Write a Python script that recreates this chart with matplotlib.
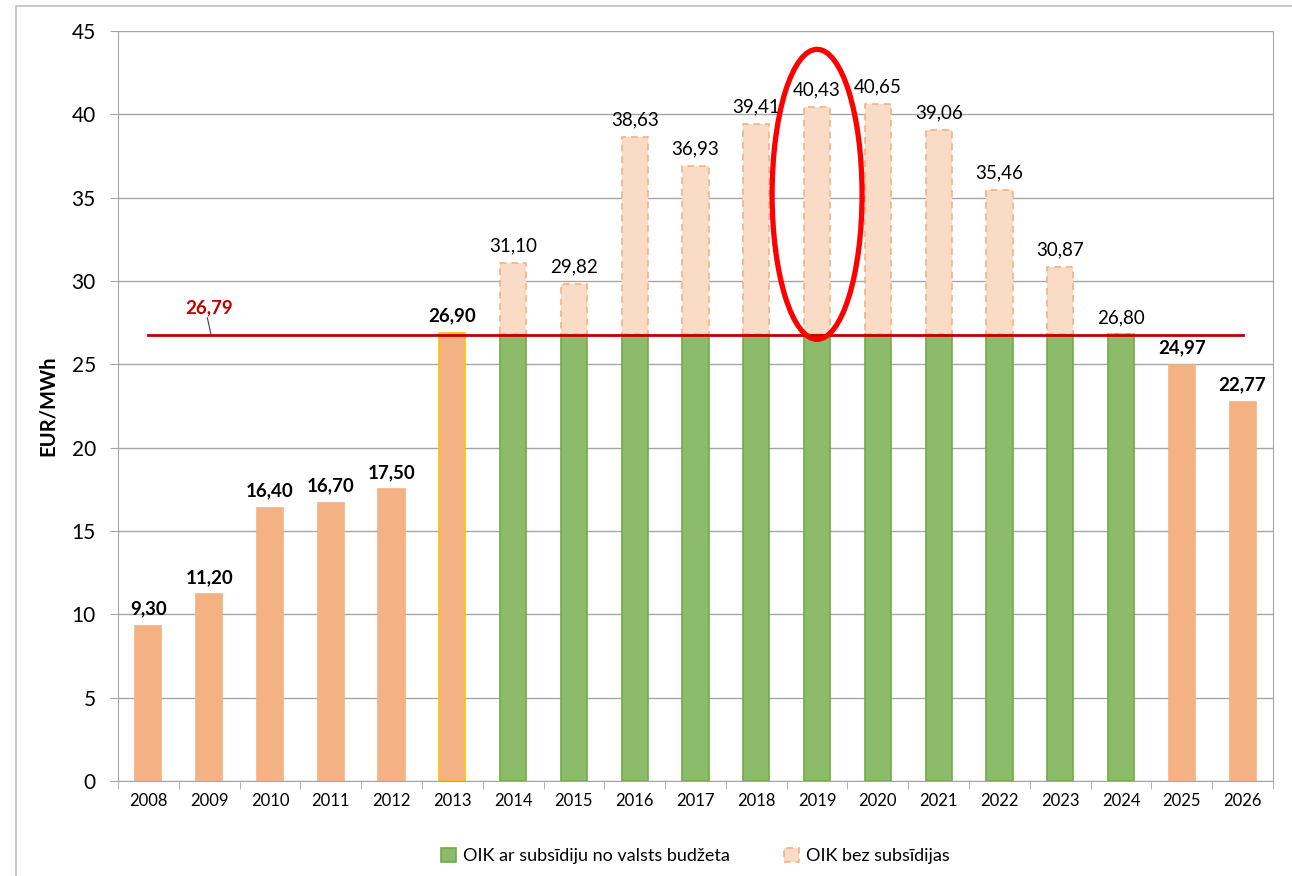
import matplotlib.pyplot as plt
from matplotlib.patches import Ellipse, Rectangle

# ── Data ────────────────────────────────────────────────────────────────────────
years = [str(y) for y in range(2008, 2027)]
orange_years = ["2008", "2009", "2010", "2011", "2012", "2013", "2025", "2026"]
orange_vals = [9.30, 11.20, 16.40, 16.70, 17.50, 26.90, 24.97, 22.77]
sub_years = ["2014", "2015", "2016", "2017", "2018", "2019", "2020",
             "2021", "2022", "2023", "2024"]
sub_base = [26.80] * 11
sub_total = [31.10, 29.82, 38.63, 36.93, 39.41, 40.43, 40.65,
             39.06, 35.46, 30.87, 26.80]
avg_value = 26.79

ORANGE = "#F4B183"
GREEN = "#8CBB6C"
GREEN_EDGE = "#70AD47"
PALE = "#FADBC6"

plt.rcParams['font.family'] = ['Lato', 'DejaVu Sans']

fig = plt.figure(figsize=(12.92, 8.76), dpi=100)
ax = fig.add_axes([118 / 1292, 95 / 876, 1155 / 1292, 750 / 876])

# figure frame
fig.patches.append(Rectangle((16 / 1292, -0.01), 1.0, 1 - 6 / 876 + 0.01,
                             transform=fig.transFigure, fill=False,
                             edgecolor="#BFBFBF", linewidth=1.2))

idx = {y: i for i, y in enumerate(years)}
w = 0.43

# orange bars
ox = [idx[y] for y in orange_years]
edges = ["#FFC000" if y == "2013" else ORANGE for y in orange_years]
ax.bar(ox, orange_vals, width=w, color=ORANGE, edgecolor=edges, linewidth=1.2, zorder=3)
for x, v in zip(ox, orange_vals):
    ax.text(x, v + 0.5, f"{v:.2f}".replace(".", ","), ha="center", va="bottom",
            fontsize=13.5, fontweight="bold", color="black", zorder=5)

# subsidised bars
sx = [idx[y] for y in sub_years]
ax.bar(sx, sub_base, width=w, color=GREEN, edgecolor=GREEN_EDGE, linewidth=1.2, zorder=3,
       label="OIK ar subsīdiju no valsts budžeta")
extra = [t - b for t, b in zip(sub_total, sub_base)]
ax.bar(sx, extra, bottom=sub_base, width=w, color=PALE, edgecolor=ORANGE,
       linewidth=1.2, linestyle=(0, (4, 3)), zorder=3, label="OIK bez subsīdijas")
for x, t in zip(sx, sub_total):
    ax.text(x, t + 0.5, f"{t:.2f}".replace(".", ","), ha="center", va="bottom",
            fontsize=13.5, color="black", zorder=5)

# average line
ax.plot([0, len(years) - 1], [avg_value, avg_value], color="#C00000", linewidth=2, zorder=4)
ax.text(1.0, avg_value + 1.1, f"{avg_value:.2f}".replace(".", ","), ha="center",
        va="bottom", fontsize=13.5, fontweight="bold", color="#C00000")
ax.plot([0.97, 1.03], [avg_value + 1.0, avg_value], color="#404040", linewidth=0.8, zorder=4)

# highlight ellipse
ax.add_patch(Ellipse((idx["2019"], 35.2), 1.48, 17.4, fill=False,
                     edgecolor="#FF0000", linewidth=3.8, zorder=6, clip_on=False))

# axes styling
ax.set_xlim(-0.5, len(years) - 0.5)
ax.set_ylim(0, 45)
ax.set_yticks(range(0, 46, 5))
ax.set_xticks(range(len(years)))
ax.set_xticklabels(years, fontsize=12)
ax.set_xticks([i - 0.5 for i in range(len(years) + 1)], minor=True)
ax.tick_params(axis="x", which="major", length=0, pad=9)
ax.tick_params(axis="x", which="minor", length=6, color="#A6A6A6")
ax.tick_params(axis="y", labelsize=15, length=6, color="#A6A6A6", pad=10)
ax.grid(axis="y", color="#A6A6A6", linewidth=1, zorder=0)
ax.set_axisbelow(True)
for s in ax.spines.values():
    s.set_color("#A6A6A6")
ax.spines["top"].set_visible(False)
ax.set_ylabel("EUR/MWh", fontsize=14.5, fontweight="bold", labelpad=10)

ax.legend(loc="upper center", bbox_to_anchor=(0.5, -0.068), ncol=2, frameon=False,
          fontsize=13, handlelength=0.8, handleheight=0.8, columnspacing=3,
          handletextpad=0.4)

plt.savefig("out.png", dpi=100)
